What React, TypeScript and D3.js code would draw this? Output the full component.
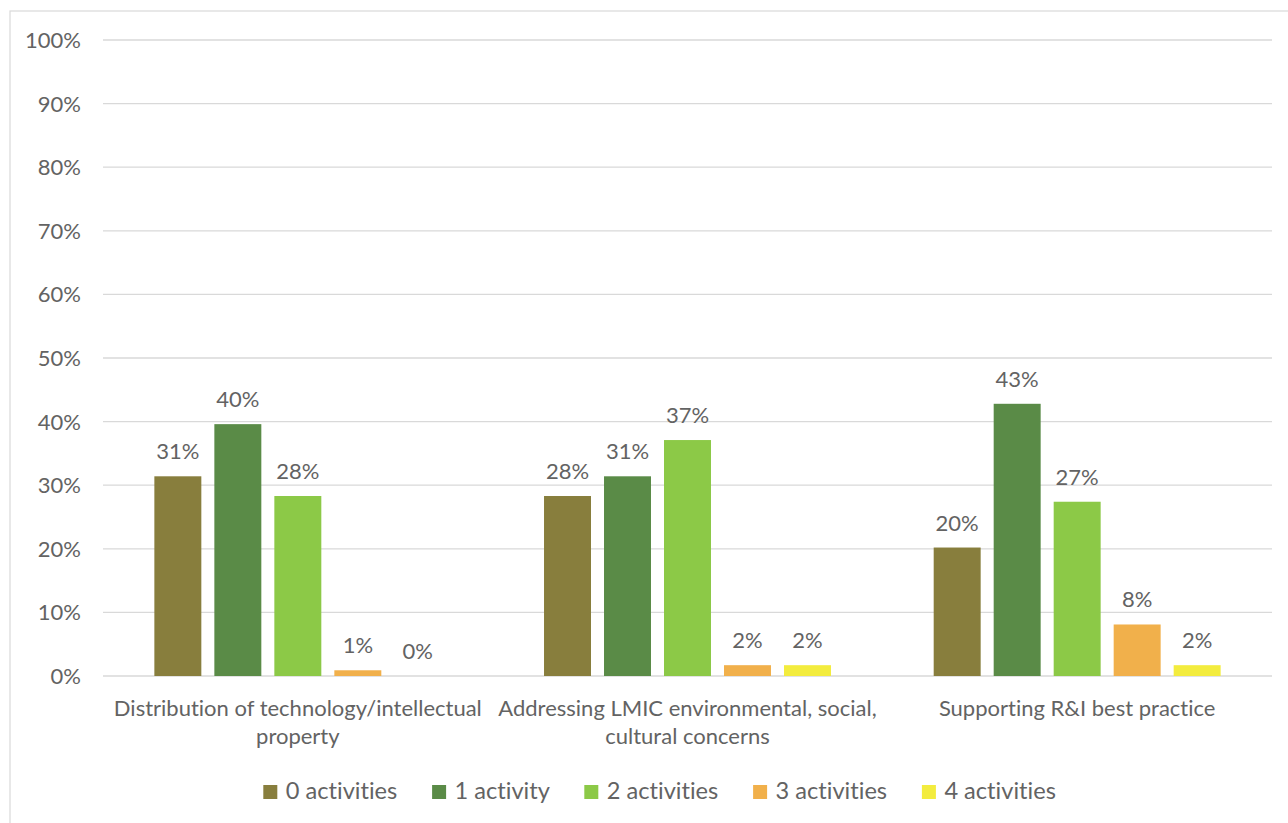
import React from "react";
import * as d3 from "d3";

const categories = [
  ["Distribution of technology/intellectual", "property"],
  ["Addressing LMIC environmental, social,", "cultural concerns"],
  ["Supporting R&I best practice"],
];
const seriesNames = ["0 activities", "1 activity", "2 activities", "3 activities", "4 activities"];
const seriesColors = ["#887E3D", "#5A8B47", "#8CC947", "#F1B04B", "#F3EC3E"];
// values per category, one entry per series
const values0 = [0.314, 0.396, 0.283, 0.009, 0.0];
const values1 = [0.283, 0.314, 0.371, 0.017, 0.017];
const values2 = [0.202, 0.428, 0.274, 0.081, 0.017];
const valueRows = [values0, values1, values2];
const yTicks = [0, 0.1, 0.2, 0.3, 0.4, 0.5, 0.6, 0.7, 0.8, 0.9, 1.0];

const W = 1288;
const H = 823;
const FONT = "Lato, 'Open Sans', sans-serif";
const FS = 22;
const LFS = 23.6;
const TXT = "#636363";

function measure(text: string, size: number): number {
  const c = document.createElement("canvas").getContext("2d");
  if (!c) return text.length * size * 0.45;
  c.font = `${size}px Lato`;
  return c.measureText(text).width;
}

export default function App() {
  const catKeys = categories.map((_, i) => String(i));
  const x0 = d3.scaleBand<string>().domain(catKeys).range([103, 1272]).padding(0);
  const x1 = d3
    .scaleBand<string>()
    .domain(seriesNames)
    .range([0, x0.bandwidth()])
    .paddingInner(0.217)
    .paddingOuter(0.856);
  const y = d3.scaleLinear().domain([0, 1]).range([676, 40]);
  const pct = d3.format(".0%");

  // legend layout
  const sq = 14;
  const textOff = 22.5;
  const itemGap = 34;
  const widths = seriesNames.map((s) => measure(s, LFS));
  const total = widths.reduce((a, w) => a + textOff + w, 0) + itemGap * (seriesNames.length - 1);
  let lx = 660 - total / 2;
  const legendItems = seriesNames.map((s, i) => {
    const item = { name: s, color: seriesColors[i], x: lx };
    lx += textOff + widths[i] + itemGap;
    return item;
  });

  return (
    <svg
      width={W}
      height={H}
      style={{ position: "absolute", left: 0, top: 0, fontVariantLigatures: "none" }}
      fontFamily={FONT}
    >
      <rect x={0} y={0} width={W} height={H} fill="#fff" />
      <rect x={10} y={11} width={W} height={H} fill="none" stroke="#d9d9d9" strokeWidth={1.2} />
      {yTicks.map((t) => (
        <g key={t}>
          <line x1={103} x2={1272} y1={y(t)} y2={y(t)} stroke="#d9d9d9" strokeWidth={1.3} />
          <text x={81} y={y(t)} dy="0.36em" textAnchor="end" fontSize={FS} fill={TXT}>
            {pct(t)}
          </text>
        </g>
      ))}
      {valueRows.map((row, ci) => (
        <g key={ci} transform={`translate(${x0(String(ci))},0)`}>
          {row.map((v, si) => {
            const bx = x1(seriesNames[si])!;
            return (
              <g key={si}>
                {v > 0 && (
                  <rect
                    x={bx}
                    y={y(v)}
                    width={x1.bandwidth()}
                    height={y(0) - y(v)}
                    fill={seriesColors[si]}
                  />
                )}
                <text
                  x={bx + x1.bandwidth() / 2}
                  y={y(v) - 17}
                  textAnchor="middle"
                  fontSize={FS}
                  fill={TXT}
                >
                  {pct(v)}
                </text>
              </g>
            );
          })}
        </g>
      ))}
      {categories.map((lines, ci) => (
        <text
          key={ci}
          x={x0(String(ci))! + x0.bandwidth() / 2}
          y={716}
          textAnchor="middle"
          fontSize={FS}
          fill={TXT}
        >
          {lines.map((l, li) => (
            <tspan key={li} x={x0(String(ci))! + x0.bandwidth() / 2} dy={li === 0 ? 0 : 28}>
              {l}
            </tspan>
          ))}
        </text>
      ))}
      {legendItems.map((it) => (
        <g key={it.name}>
          <rect x={it.x} y={785} width={sq} height={sq} fill={it.color} />
          <text x={it.x + textOff} y={799} fontSize={LFS} fill={TXT}>
            {it.name}
          </text>
        </g>
      ))}
    </svg>
  );
}
